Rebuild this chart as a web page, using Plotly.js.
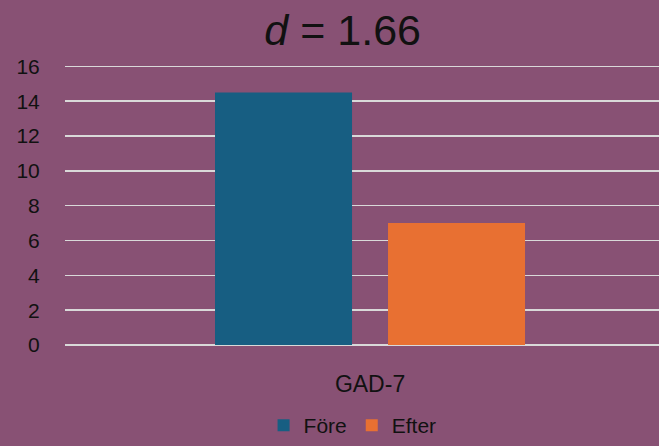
<!DOCTYPE html>
<html>
<head>
<meta charset="utf-8">
<script src="https://cdn.plot.ly/plotly-3.0.1.min.js"></script>
<style>html,body{margin:0;padding:0;background:#885174;}#chart{width:659px;height:446px;}</style>
</head>
<body>
<div id="chart"></div>
<script>
const categories = ["GAD-7"];
const seriesNames = ["Före", "Efter"];
const foreValues = [14.5];
const efterValues = [7.0];
const yTicks = [0, 2, 4, 6, 8, 10, 12, 14, 16];
const titleText = "<i>d</i> = 1.66";

const font = "Liberation Sans, Arial, sans-serif";
const traces = [
  {type: "bar", name: seriesNames[0], x: categories, y: foreValues, marker: {color: "#175E82"}, hoverinfo: "none"},
  {type: "bar", name: seriesNames[1], x: categories, y: efterValues, marker: {color: "#E87032"}, hoverinfo: "none"}
];
const layout = {
  width: 659, height: 446,
  paper_bgcolor: "#885174", plot_bgcolor: "#885174",
  margin: {l: 65, r: 0, t: 65, b: 101},
  font: {family: font, color: "#111111", size: 21},
  title: {text: titleText, font: {family: font, size: 43, color: "#111111"}, xref: "container", x: 0.52, xanchor: "center", yref: "container", y: 0.932, yanchor: "middle"},
  barmode: "group", bargap: 0.4175, bargroupgap: 0.208,
  xaxis: {type: "category", range: [-0.5135, 0.4865], showgrid: false, zeroline: false, showline: false, ticks: "outside", ticklen: 18, tickcolor: "rgba(0,0,0,0)", tickfont: {size: 23}},
  yaxis: {range: [0, 16.08], tickvals: yTicks, ticktext: yTicks.map(String), showgrid: true, gridcolor: "#D9D9D9", gridwidth: 1.5, zeroline: true, zerolinecolor: "#D9D9D9", zerolinewidth: 1.5, showline: false, ticks: "outside", ticklen: 20, tickcolor: "rgba(0,0,0,0)", tickfont: {size: 21}},
  showlegend: true,
  legend: {orientation: "h", xref: "container", x: 0.535, xanchor: "center", yref: "container", y: 0.0, yanchor: "bottom", font: {size: 21}, itemwidth: 30, traceorder: "normal"}
};
Plotly.newPlot("chart", traces, layout, {staticPlot: true, displayModeBar: false});
</script>
</body>
</html>
